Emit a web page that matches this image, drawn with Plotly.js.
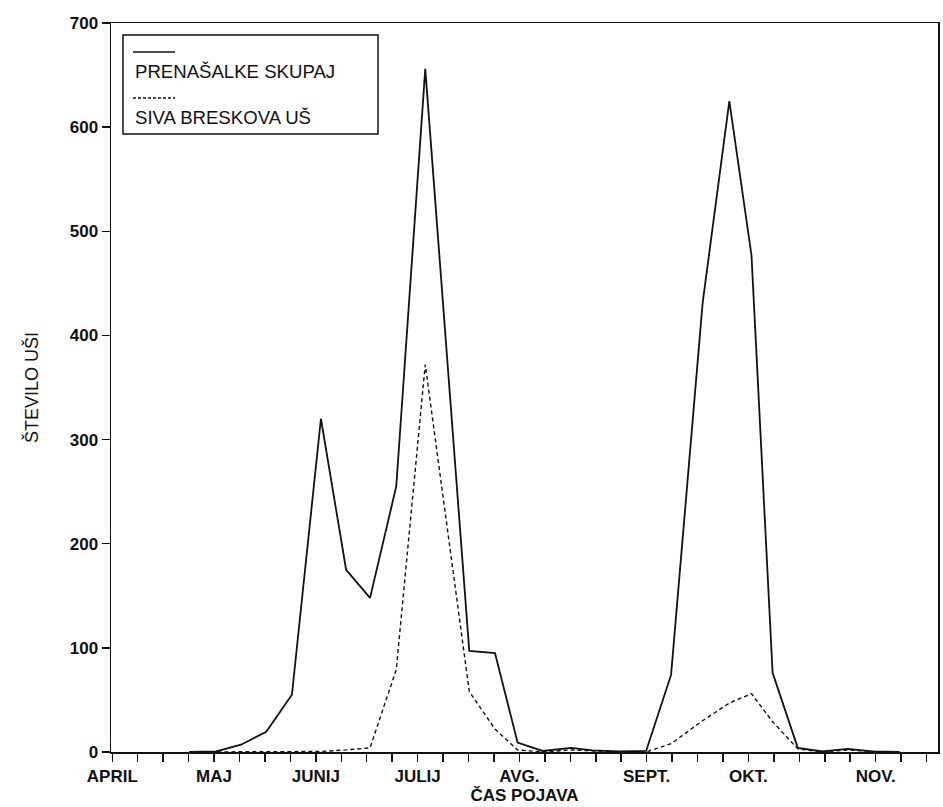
<!DOCTYPE html>
<html>
<head>
<meta charset="utf-8">
<script src="https://cdn.plot.ly/plotly-3.0.1.min.js"></script>
<style>html,body{margin:0;padding:0;background:#fff;}#chart{width:943px;height:807px;}</style>
</head>
<body>
<div id="chart"></div>
<script>
// sampling positions (in week-tick units from 1 April)
const samplePos = [3.03, 4.08, 5.06, 6.05, 7.06, 8.20, 9.19, 10.13, 11.16, 12.30, 14.03, 15.04, 15.93, 16.91, 18.03, 18.87, 19.93, 20.98, 21.96, 23.20, 24.25, 25.12, 25.95, 26.94, 27.91, 28.90, 29.87, 30.94];
// PRENAŠALKE SKUPAJ (all vector aphids)
const totalVectors = [0, 0.5, 7, 19.5, 55, 320, 175, 148, 255, 656, 97, 95, 9, 1, 4, 1.5, 0.5, 1, 74, 431, 625, 477, 76, 4, 0.5, 3, 0.5, 0];
// SIVA BRESKOVA UŠ (Myzus persicae)
const peachAphid = [0, 0, 0, 0.5, 0, 0.5, 2, 4, 79, 372, 58, 22, 2, 0, 2, 1, 0, 0, 8, 30, 47, 56, 29, 3, 0, 2, 0.5, 0];

const seriesNames = ['PRENAŠALKE SKUPAJ', 'SIVA BRESKOVA UŠ'];
const monthTickPos = [0, 4, 8, 12, 16, 21, 25, 30];
const monthLabels = ['APRIL', 'MAJ', 'JUNIJ', 'JULIJ', 'AVG.', 'SEPT.', 'OKT.', 'NOV.'];
const yTicks = [0, 100, 200, 300, 400, 500, 600, 700];

const tickVals = [];
const tickText = [];
for (let i = 0; i <= 32; i++) {
  tickVals.push(i);
  const k = monthTickPos.indexOf(i);
  tickText.push(k >= 0 ? monthLabels[k] : '');
}

const ink = '#111';
const fontFam = 'Liberation Sans, Arial, sans-serif';

const traces = [
  {x: samplePos, y: totalVectors, type: 'scatter', mode: 'lines', name: seriesNames[0],
   line: {color: ink, width: 1.8}},
  {x: samplePos, y: peachAphid, type: 'scatter', mode: 'lines', name: seriesNames[1],
   line: {color: ink, width: 1.4, dash: '4px,3px'}}
];

// legend drawn as a framed box with the line sample above each label
const L = {x0: 0.0145, x1: 0.3229, y0: 0.8477, y1: 0.9835};
const shapes = [
  {type: 'rect', xref: 'paper', yref: 'paper', x0: L.x0, x1: L.x1, y0: L.y0, y1: L.y1,
   line: {color: ink, width: 1.5}, fillcolor: '#fff'},
  {type: 'line', xref: 'paper', yref: 'paper', x0: 0.0266, x1: 0.0774, y0: 0.9602, y1: 0.9602,
   line: {color: ink, width: 1.6}},
  {type: 'line', xref: 'paper', yref: 'paper', x0: 0.0266, x1: 0.0774, y0: 0.8971, y1: 0.8971,
   line: {color: ink, width: 1.3, dash: '3px,2px'}}
];
const annotations = [
  {xref: 'paper', yref: 'paper', x: 0.027, y: 0.933, xanchor: 'left', yanchor: 'middle',
   text: seriesNames[0], showarrow: false, font: {family: fontFam, size: 18.6, color: ink}},
  {xref: 'paper', yref: 'paper', x: 0.027, y: 0.8697, xanchor: 'left', yanchor: 'middle',
   text: seriesNames[1], showarrow: false, font: {family: fontFam, size: 18.6, color: ink}}
];

const layout = {
  width: 943, height: 807,
  margin: {l: 111, r: 5, t: 23, b: 55},
  paper_bgcolor: '#fff', plot_bgcolor: '#fff',
  showlegend: false,
  font: {family: fontFam, color: ink},
  xaxis: {
    range: [-0.05, 32.45], tickmode: 'array', tickvals: tickVals, ticktext: tickText,
    ticks: 'outside', ticklen: 8, tickwidth: 1.5, tickcolor: ink,
    showline: true, linecolor: ink, linewidth: 1.5, mirror: true,
    showgrid: false, zeroline: false,
    tickfont: {family: fontFam, size: 17, color: ink, weight: 'bold'},
    title: {text: 'ČAS POJAVA', font: {family: fontFam, size: 17, color: ink, weight: 'bold'}, standoff: 2},
    automargin: false
  },
  yaxis: {
    range: [0, 700], tickmode: 'array', tickvals: yTicks,
    ticks: 'outside', ticklen: 8, tickwidth: 1.5, tickcolor: ink,
    showline: true, linecolor: ink, linewidth: 1.5, mirror: true,
    showgrid: false, zeroline: false,
    tickfont: {family: fontFam, size: 17, color: ink, weight: 'bold'},
    title: {text: 'ŠTEVILO UŠI', font: {family: fontFam, size: 18, color: ink}, standoff: 26},
    automargin: false
  },
  shapes: shapes,
  annotations: annotations
};

Plotly.newPlot('chart', traces, layout, {displayModeBar: false, staticPlot: true});
</script>
</body>
</html>
